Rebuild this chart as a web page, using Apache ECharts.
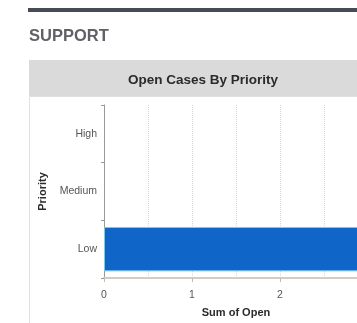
<!DOCTYPE html>
<html>
<head>
<meta charset="utf-8">
<script src="https://cdn.jsdelivr.net/npm/echarts@6/dist/echarts.min.js"></script>
<style>
html,body{margin:0;padding:0;background:#fff;overflow:hidden;width:357px;height:323px;}
#c{width:420px;height:323px;}
</style>
</head>
<body>
<div id="c"></div>
<script>
var categories = ['Low', 'Medium', 'High'];
var openValues = [3, null, null];
var xMin = 0, xMax = 3, xInterval = 1;

var chart = echarts.init(document.getElementById('c'), null, {renderer: 'canvas'});
var font = 'Liberation Sans, Arial, Helvetica, sans-serif';
chart.setOption({
  animation: false,
  backgroundColor: '#fff',
  graphic: [
    {type: 'rect', shape: {x: 28, y: 8, width: 400, height: 4}, style: {fill: '#454c58'}},
    {type: 'text', x: 29, y: 36, style: {text: 'SUPPORT', font: 'bold 16.5px ' + font, fill: '#5f6166', verticalAlign: 'middle'}},
    {type: 'rect', shape: {x: 29, y: 60, width: 400, height: 36}, style: {fill: '#dadada'}},
    {type: 'rect', shape: {x: 29.5, y: 96.5, width: 400, height: 240}, style: {fill: 'none', stroke: '#e0e0e0', lineWidth: 1}},
    {type: 'text', x: 203, y: 80, style: {text: 'Open Cases By Priority', font: 'bold 13.5px ' + font, fill: '#2a2a2a', align: 'center', verticalAlign: 'middle'}}
  ],
  grid: {left: 104, top: 105, width: 264, height: 175, containLabel: false},
  xAxis: {
    type: 'value', min: xMin, max: xMax, interval: xInterval,
    name: 'Sum of Open', nameLocation: 'middle', nameGap: 29,
    nameTextStyle: {fontFamily: font, fontWeight: 'bold', fontSize: 11, color: '#2a2a2a'},
    axisLine: {show: true, lineStyle: {color: '#d8cabe', width: 2}},
    axisTick: {show: true, length: 4, lineStyle: {color: '#bbb'}},
    axisLabel: {fontFamily: font, fontSize: 10.5, color: '#555', margin: 12},
    splitLine: {show: true, lineStyle: {color: '#d4d4d4', type: 'dotted'}},
    minorTick: {show: false, splitNumber: 2},
    minorSplitLine: {show: true, lineStyle: {color: '#d4d4d4', type: 'dotted'}}
  },
  yAxis: {
    type: 'category', data: categories,
    name: 'Priority', nameLocation: 'middle', nameGap: 52, nameRotate: 90,
    nameTextStyle: {fontFamily: font, fontWeight: 'bold', fontSize: 11, color: '#2a2a2a'},
    axisLine: {show: true, lineStyle: {color: '#999'}},
    axisTick: {show: true, length: 3, lineStyle: {color: '#999'}},
    axisLabel: {fontFamily: font, fontSize: 10.5, color: '#555', margin: 7},
    splitLine: {show: false}
  },
  series: [{
    type: 'bar', data: openValues,
    barCategoryGap: '23%',
    itemStyle: {color: '#1066c8', borderColor: '#7cc8f2', borderWidth: 1}
  }]
});
</script>
</body>
</html>
